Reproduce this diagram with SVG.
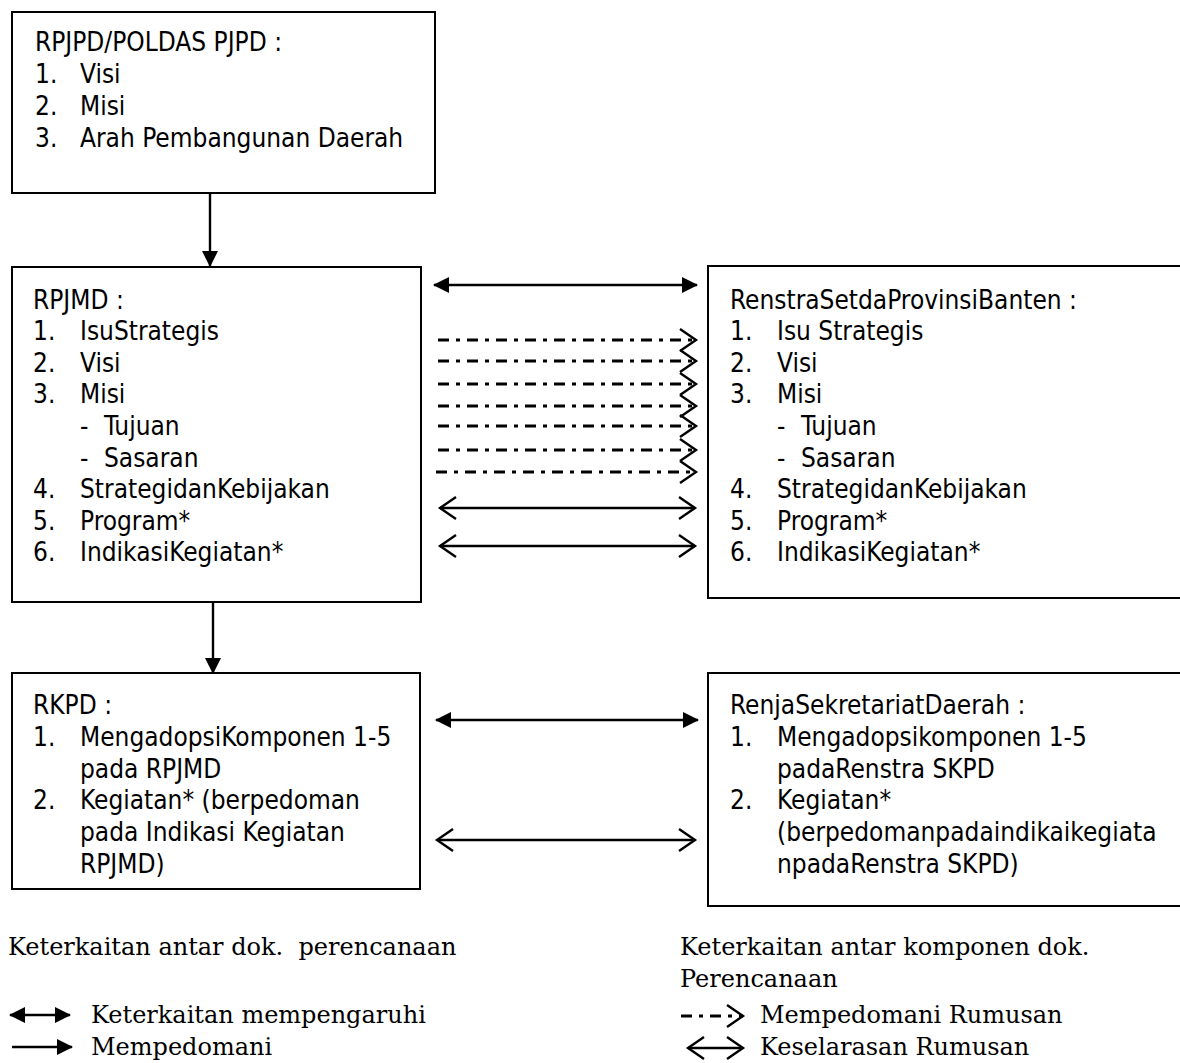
<svg xmlns="http://www.w3.org/2000/svg" width="1180" height="1063" viewBox="0 0 1180 1063">
<defs>
<style>
.box{fill:#fff;stroke:#000;stroke-width:2}
.t{font-family:'DejaVu Sans Condensed','DejaVu Sans',sans-serif;font-stretch:condensed;font-size:26px;fill:#000}
.s{font-family:'DejaVu Serif','Liberation Serif',serif;font-size:24px;fill:#000}
.ln{stroke:#000;stroke-width:2.4;fill:none}
.dd{stroke:#000;stroke-width:2.8;fill:none;stroke-dasharray:11,7,4,7}
</style>
<marker id="fa" markerUnits="userSpaceOnUse" viewBox="0 0 16 16" refX="15" refY="8" markerWidth="16" markerHeight="16" orient="auto-start-reverse"><path d="M0,0 L16,8 L0,16 z" fill="#000"/></marker>
<marker id="oa" markerUnits="userSpaceOnUse" viewBox="-2 -2 20 26" refX="16" refY="11" markerWidth="20" markerHeight="26" orient="auto-start-reverse" overflow="visible"><path d="M0,0 L16,11 L0,22" fill="none" stroke="#000" stroke-width="2.4"/></marker>
</defs>
<rect width="1180" height="1063" fill="#fff"/>

<g id="connectors">
<line class="ln" x1="210" y1="194" x2="210" y2="266" marker-end="url(#fa)"/>
<line class="ln" x1="213" y1="603" x2="213" y2="673" marker-end="url(#fa)"/>
<line class="ln" x1="434" y1="285" x2="697" y2="285" marker-start="url(#fa)" marker-end="url(#fa)"/>
<line class="dd" x1="438" y1="340" x2="696" y2="340" marker-end="url(#oa)"/>
<line class="dd" x1="438" y1="361" x2="696" y2="361" marker-end="url(#oa)"/>
<line class="dd" x1="438" y1="384" x2="696" y2="384" marker-end="url(#oa)"/>
<line class="dd" x1="438" y1="406" x2="696" y2="406" marker-end="url(#oa)"/>
<line class="dd" x1="438" y1="426" x2="696" y2="426" marker-end="url(#oa)"/>
<line class="dd" x1="438" y1="450" x2="696" y2="450" marker-end="url(#oa)"/>
<line class="dd" x1="436" y1="472" x2="696" y2="472" marker-end="url(#oa)"/>
<line class="ln" x1="440" y1="508" x2="695" y2="508" marker-start="url(#oa)" marker-end="url(#oa)"/>
<line class="ln" x1="440" y1="546" x2="695" y2="546" marker-start="url(#oa)" marker-end="url(#oa)"/>
<line class="ln" x1="436" y1="720" x2="698" y2="720" marker-start="url(#fa)" marker-end="url(#fa)"/>
<line class="ln" x1="437" y1="840" x2="695" y2="840" marker-start="url(#oa)" marker-end="url(#oa)"/>
</g>

<g id="rpjpd">
<rect class="box" x="12" y="12" width="423" height="181"/>
<text class="t" x="35" y="51">RPJPD/POLDAS PJPD :</text>
<text class="t" x="35" y="83">1.</text><text class="t" x="80" y="83">Visi</text>
<text class="t" x="35" y="115">2.</text><text class="t" x="80" y="115">Misi</text>
<text class="t" x="35" y="147">3.</text><text class="t" x="80" y="147">Arah Pembangunan Daerah</text>
</g>

<g id="rpjmd">
<rect class="box" x="12" y="267" width="409" height="335"/>
<text class="t" x="33" y="309">RPJMD :</text>
<text class="t" x="33" y="340">1.</text><text class="t" x="80" y="340">IsuStrategis</text>
<text class="t" x="33" y="372">2.</text><text class="t" x="80" y="372">Visi</text>
<text class="t" x="33" y="403">3.</text><text class="t" x="80" y="403">Misi</text>
<text class="t" x="80" y="435">-</text><text class="t" x="104" y="435">Tujuan</text>
<text class="t" x="80" y="467">-</text><text class="t" x="104" y="467">Sasaran</text>
<text class="t" x="33" y="498">4.</text><text class="t" x="80" y="498">StrategidanKebijakan</text>
<text class="t" x="33" y="530">5.</text><text class="t" x="80" y="530">Program*</text>
<text class="t" x="33" y="561">6.</text><text class="t" x="80" y="561">IndikasiKegiatan*</text>
</g>

<g id="renstra">
<rect class="box" x="708" y="266" width="490" height="332"/>
<text class="t" x="730" y="309">RenstraSetdaProvinsiBanten :</text>
<text class="t" x="730" y="340">1.</text><text class="t" x="777" y="340">Isu Strategis</text>
<text class="t" x="730" y="372">2.</text><text class="t" x="777" y="372">Visi</text>
<text class="t" x="730" y="403">3.</text><text class="t" x="777" y="403">Misi</text>
<text class="t" x="777" y="435">-</text><text class="t" x="801" y="435">Tujuan</text>
<text class="t" x="777" y="467">-</text><text class="t" x="801" y="467">Sasaran</text>
<text class="t" x="730" y="498">4.</text><text class="t" x="777" y="498">StrategidanKebijakan</text>
<text class="t" x="730" y="530">5.</text><text class="t" x="777" y="530">Program*</text>
<text class="t" x="730" y="561">6.</text><text class="t" x="777" y="561">IndikasiKegiatan*</text>
</g>

<g id="rkpd">
<rect class="box" x="12" y="673" width="408" height="216"/>
<text class="t" x="33" y="714">RKPD :</text>
<text class="t" x="33" y="746">1.</text><text class="t" x="80" y="746">MengadopsiKomponen 1-5</text>
<text class="t" x="80" y="778">pada RPJMD</text>
<text class="t" x="33" y="809">2.</text><text class="t" x="80" y="809">Kegiatan* (berpedoman</text>
<text class="t" x="80" y="841">pada Indikasi Kegiatan</text>
<text class="t" x="80" y="873">RPJMD)</text>
</g>

<g id="renja">
<rect class="box" x="708" y="673" width="490" height="233"/>
<text class="t" x="730" y="714">RenjaSekretariatDaerah :</text>
<text class="t" x="730" y="746">1.</text><text class="t" x="777" y="746">Mengadopsikomponen 1-5</text>
<text class="t" x="777" y="778">padaRenstra SKPD</text>
<text class="t" x="730" y="809">2.</text><text class="t" x="777" y="809">Kegiatan*</text>
<text class="t" x="777" y="841">(berpedomanpadaindikaikegiata</text>
<text class="t" x="777" y="873">npadaRenstra SKPD)</text>
</g>

<g id="legend">
<text class="s" x="8" y="955" xml:space="preserve">Keterkaitan antar dok.  perencanaan</text>
<line class="ln" x1="10" y1="1015" x2="70" y2="1015" marker-start="url(#fa)" marker-end="url(#fa)"/>
<text class="s" x="91" y="1023">Keterkaitan mempengaruhi</text>
<line class="ln" x1="12" y1="1047" x2="72" y2="1047" marker-end="url(#fa)"/>
<text class="s" x="91" y="1055">Mempedomani</text>
<text class="s" x="680" y="955">Keterkaitan antar komponen dok.</text>
<text class="s" x="680" y="987">Perencanaan</text>
<line class="dd" x1="681" y1="1016" x2="743" y2="1016" marker-end="url(#oa)"/>
<text class="s" x="760" y="1023">Mempedomani Rumusan</text>
<line class="ln" x1="688" y1="1048" x2="743" y2="1048" marker-start="url(#oa)" marker-end="url(#oa)"/>
<text class="s" x="760" y="1055">Keselarasan Rumusan</text>
</g>
</svg>
